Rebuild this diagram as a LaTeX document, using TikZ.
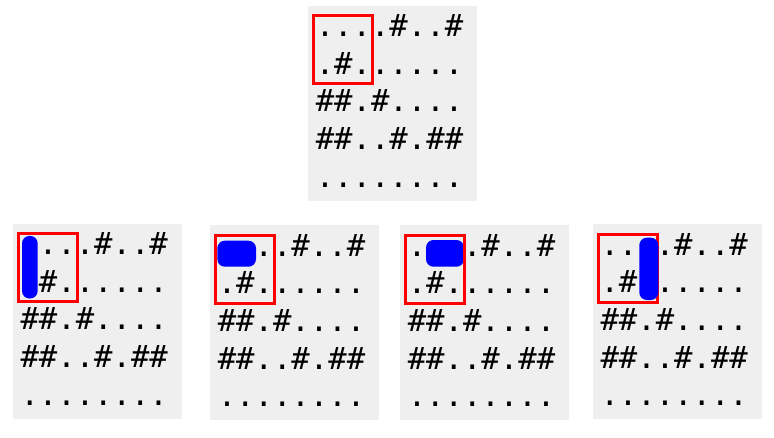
\documentclass[tikz,border=0pt]{standalone}
\usepackage{fontspec}
\newfontfamily\gridmono{DejaVu Sans Mono}
\definecolor{panelgray}{HTML}{EFEFEF}
\definecolor{boxred}{HTML}{FF0000}
\definecolor{blobblue}{HTML}{0000FF}
\tikzset{
  panelbg/.style={fill=panelgray},
  rowtext/.style={anchor=base west,inner sep=0pt,outer sep=0pt,font=\gridmono\fontsize{30.6pt}{37.7pt}\selectfont},
  redbox/.style={draw=boxred,line width=3pt},
  blob/.style={fill=blobblue,rounded corners=7.5pt},
}
\newcommand\gridpanel[3]{%
  \begin{scope}[shift={(#2,#3)}]
    \fill[panelbg] (0,0) rectangle (169,195);
    \node[rowtext] (#1r1) at (7.8,31) {....\#..\#};
    \node[rowtext] (#1r2) at (7.8,68.7) {.\#......};
    \node[rowtext] (#1r3) at (7.8,106.4) {\#\#.\#....};
    \node[rowtext] (#1r4) at (7.8,144.1) {\#\#..\#.\#\#};
    \node[rowtext] (#1r5) at (7.8,181.8) {........};
  \end{scope}}
\newcommand\gridredbox[2]{%
  \draw[redbox,shift={(#1,#2)}] (5.5,10) rectangle (64.5,78);}
\begin{document}
\begin{tikzpicture}[x=1pt,y=-1pt]
\useasboundingbox (0,0) rectangle (774,437);
% top panel
\gridpanel{top}{308}{5.5}
\gridredbox{308}{5.5}
% bottom panels
\gridpanel{pa}{12.7}{223.5}
\fill[blob,shift={(12.7,223.5)}] (9.3,12.4) rectangle (25,75);
\gridredbox{12.7}{223.5}
\gridpanel{pb}{210}{225}
\fill[blob,shift={(210,225)}] (7.3,15.7) rectangle (46,41.7);
\gridredbox{210}{225}
\gridpanel{pc}{400}{225}
\fill[blob,shift={(400,225)}] (26,15) rectangle (64,41.7);
\gridredbox{400}{225}
\gridpanel{pd}{592.7}{224}
\gridredbox{592.7}{224}
\fill[blob,shift={(592.7,224)}] (46.6,13.7) rectangle (65.6,76);
\end{tikzpicture}
\end{document}
